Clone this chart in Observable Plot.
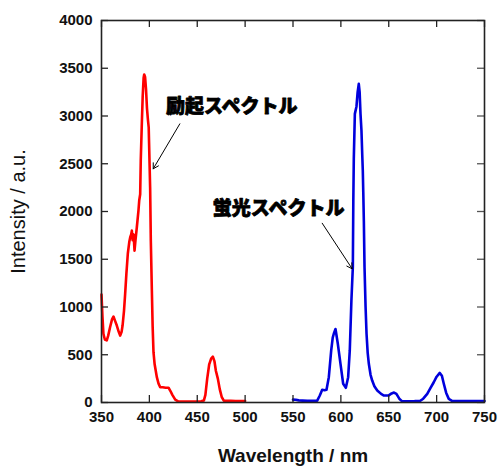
<!DOCTYPE html>
<html><head><meta charset="utf-8">
<script src="https://cdn.jsdelivr.net/npm/d3@7"></script>
<script src="https://cdn.jsdelivr.net/npm/@observablehq/plot@0.6"></script>
<style>body{margin:0;background:#fff}</style>
</head><body><div id="chart"></div>
<script>
// Excitation spectrum (red)
const exWavelength = [350,351,352,353.5,355.5,357,359,361,362.5,364,366,368,369.5,371,372,373.5,374.7,376,377.5,379,380,381,381.7,382.5,383.5,384.5,385.5,386.9,388.6,389.4,390.4,391,392,393,394,394.6,395.5,396.5,397.5,398.5,399.3,400.2,400.8,401.5,402.6,403.4,404.3,405.5,407.8,409.5,411.3,414,417,420,422,424,427,430,435,440,445,450,454,456.9,458.5,460.4,462.5,464.5,466.3,468,469.5,471.5,473.5,475.5,477.7,480,485,490,495,500];
const exIntensity = [1130,900,720,660,650,700,790,870,900,860,806,740,700,740,806,960,1138,1350,1560,1680,1730,1760,1800,1700,1760,1590,1700,1835,2010,2115,2180,2534,2880,3200,3400,3434,3410,3280,3080,2960,2880,2500,2250,1700,1170,800,527,400,265,200,160,160,155,155,120,80,30,12,10,10,10,10,12,20,80,250,400,460,480,430,330,250,140,60,20,18,18,16,16,15];

// Emission spectrum (blue)
const emWavelength = [550,553,556,560,565,570,575.3,578,580.5,583,585,587.4,589.9,591.5,592.6,594.4,596.8,599.6,602.4,605.2,607.6,609.3,611,612.5,613,613.5,614.6,616.3,617.5,618.7,619.6,620.5,621.5,622.3,622.9,623.4,624,624.7,625.8,626.8,628,629.2,631,632.7,635,638,642,645,650,653,655.5,658,661,664,670,677,683,686,690.2,693.5,697,700,703.3,705.5,707.5,710,712.7,716,720,730,740,750];
const emIntensity = [30,28,22,20,18,18,20,73,133,128,133,265,545,680,720,770,615,405,196,154,265,545,1068,1420,2115,2551,3022,3100,3250,3337,3250,3022,2848,2600,2430,2200,1900,1417,1000,720,520,405,290,230,170,126,90,73,75,95,104,90,40,12,12,14,18,40,90,150,212,270,310,280,196,100,38,18,15,15,15,15];

const xTicks = [350,400,450,500,550,600,650,700,750];
const yTicks = [0,500,1000,1500,2000,2500,3000,3500,4000];

// Annotation labels and arrows (data coordinates)
const labelText = ["励起スペクトル","蛍光スペクトル"];
const labelX = [486,535];
const labelY = [3100,2030];
const arrowX1 = [431.8,580.5];
const arrowY1 = [2918,1877];
const arrowX2 = [404,611.8];
const arrowY2 = [2447,1400];

const excitation = exWavelength.map((w,i)=>({w, v: exIntensity[i]}));
const emission = emWavelength.map((w,i)=>({w, v: emIntensity[i]}));
const labels = labelText.map((t,i)=>({t, x: labelX[i], y: labelY[i]}));
const arrows = arrowX1.map((x1,i)=>({x1, y1: arrowY1[i], x2: arrowX2[i], y2: arrowY2[i]}));

const W = 498, H = 466, ML = 101, MR = 14, MT = 20, MB = 64;
const frameW = W - ML - MR, frameH = H - MT - MB, tickLen = 7;
const plainFmt = d => String(d);

const chart = Plot.plot({
  width: W,
  height: H,
  marginLeft: ML,
  marginRight: MR,
  marginTop: MT,
  marginBottom: MB,
  style: {fontFamily: "'Liberation Sans', Arial, sans-serif", background: "#fff", overflow: "visible"},
  x: {domain: [350, 750]},
  y: {domain: [0, 4000]},
  marks: [
    Plot.line(excitation, {x: "w", y: "v", stroke: "#ff0000", strokeWidth: 2.6, strokeLinejoin: "round"}),
    Plot.line(emission, {x: "w", y: "v", stroke: "#0000dd", strokeWidth: 2.6, strokeLinejoin: "round"}),
    // inward ticks on all four sides
    Plot.ruleX(xTicks, {x: d => d, insetTop: frameH - tickLen, stroke: "#222", strokeWidth: 1.3}),
    Plot.ruleX(xTicks, {x: d => d, insetBottom: frameH - tickLen, stroke: "#222", strokeWidth: 1.3}),
    Plot.ruleY(yTicks, {y: d => d, insetRight: frameW - tickLen, stroke: "#222", strokeWidth: 1.3}),
    Plot.ruleY(yTicks, {y: d => d, insetLeft: frameW - tickLen, stroke: "#555", strokeWidth: 1.3}),
    Plot.frame({stroke: "#222", strokeWidth: 1.6}),
    Plot.axisX(xTicks, {anchor: "bottom", tickSize: 0, tickPadding: 9, tickFormat: plainFmt, label: null, fontSize: 15, fontWeight: "bold", fill: "#111"}),
    Plot.axisY(yTicks, {anchor: "left", tickSize: 0, tickPadding: 9, tickFormat: plainFmt, label: null, fontSize: 15, fontWeight: "bold", fill: "#111"}),
    Plot.text(["Wavelength / nm"], {text: d => d, frameAnchor: "bottom", dy: 53, lineAnchor: "middle", textAnchor: "middle", fontSize: 19, fontWeight: "bold", fill: "#111"}),
    Plot.text(["Intensity / a.u."], {text: d => d, frameAnchor: "left", dx: -83, rotate: -90, textAnchor: "middle", lineAnchor: "middle", fontSize: 20, fill: "#111"}),
    Plot.arrow(arrows, {x1: "x1", y1: "y1", x2: "x2", y2: "y2", stroke: "#000", strokeWidth: 1, headLength: 9}),
    Plot.text(labels, {x: "x", y: "y", text: "t", fontSize: 19, fontWeight: 900, fontFamily: "'Noto Sans CJK JP', sans-serif", fill: "#000", stroke: "#000", strokeWidth: 0.8})
  ]
});
document.getElementById("chart").appendChild(chart);
</script>
</body></html>
